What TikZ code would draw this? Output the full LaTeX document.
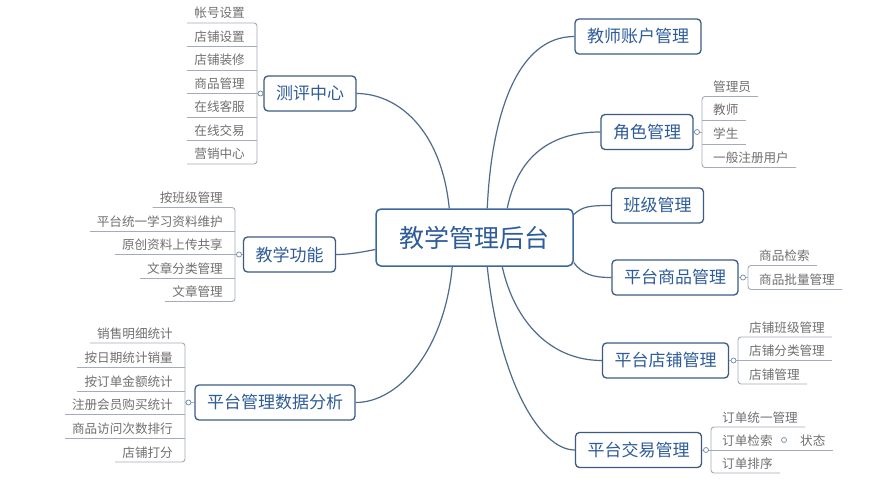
\documentclass[tikz,border=0pt]{standalone}
\usepackage{fontspec}
\setmainfont{Noto Sans CJK SC}
\usetikzlibrary{calc}
\definecolor{boxc}{HTML}{3B5B85}
\definecolor{rootc}{HTML}{3A679E}
\definecolor{txtc}{HTML}{2E5C9A}
\definecolor{conc}{HTML}{4F6B8C}
\definecolor{leaft}{HTML}{707070}
\definecolor{leafl}{HTML}{A3ACB8}
\tikzset{
 root/.style={draw=rootc, line width=1.5pt, rounded corners=5pt, fill=white, text=txtc, font=\fontsize{25}{30}\selectfont, minimum width=197pt, minimum height=57pt, inner sep=0pt},
 topic/.style={draw=boxc, line width=1.3pt, rounded corners=4pt, fill=white, text=txtc, font=\fontsize{17}{20}\selectfont, minimum height=35pt, inner xsep=12pt, inner ysep=0pt},
 leaf/.style={text=leaft, font=\fontsize{12.6}{15}\selectfont, inner xsep=7pt, inner ysep=0pt},
 leafline/.style={draw=leafl, line width=0.9pt},
 conn/.style={draw=conc, line width=1.2pt},
 knob/.style={circle, draw=conc!80, fill=white, line width=0.7pt, minimum size=5pt, inner sep=0pt},
}
\newcommand\lfnL[4]{\node[leaf,anchor=base east] (#1) at ({#2-5},{#3-5}) {#4};}
\newcommand\ulL[3]{\draw[leafline] ($(#1.base west)+(0,5)$) -- (#2,#3);}
\newcommand\brL[5]{\draw[leafline,rounded corners=3pt] ($(#1.base west)+(0,5)$) -- (#3,#4) -- (#3,#5) -- ($(#2.base west)+(0,5)$);}
\newcommand\lfnR[4]{\node[leaf,anchor=base west] (#1) at ({#2+4},{#3-5}) {#4};}
\newcommand\ulR[3]{\draw[leafline] (#2,#3) -- ($(#1.base east)+(0,5)$);}
\newcommand\brR[5]{\draw[leafline,rounded corners=3pt] ($(#1.base east)+(0,5)$) -- (#3,#4) -- (#3,#5) -- ($(#2.base east)+(0,5)$);}
\begin{document}
\begin{tikzpicture}[x=1pt,y=-1pt]
\useasboundingbox[fill=white] (0,0) rectangle (870,484);

% topics
\node[root] (ctr) at (474.5,237.5) {教学管理后台};
\node[topic] (cp) at (310,93.5) {测评中心};
\node[topic] (jx) at (289.5,254.5) {教学功能};
\node[topic] (sj) at (275,402.5) {平台管理数据分析};
\node[topic] (js) at (638,36.5) {教师账户管理};
\node[topic] (jg) at (647,132) {角色管理};
\node[topic] (bj) at (657.5,205.5) {班级管理};
\node[topic] (sp) at (675,277.5) {平台商品管理};
\node[topic] (dp) at (665.5,360.5) {平台店铺管理};
\node[topic] (jy) at (638.5,450) {平台交易管理};

% main connectors
\draw[conn] ($(ctr.north west)+(74,0)$) .. controls +(-8,-80) and +(40,0) .. (cp.east);
\draw[conn] ($(ctr.north west)+(112,0)$) .. controls +(4,-89) and +(-59,0) .. (js.west);
\draw[conn] ($(ctr.north west)+(132,0)$) .. controls +(12,-59) and +(-42,0) .. (jg.west);
\draw[conn] ($(ctr.east)+(0,-23)$) .. controls +(9,-8.5) and +(-20,0) .. (bj.west);
\draw[conn] ($(ctr.east)+(0,25)$) .. controls +(9,12.5) and +(-17,0) .. (sp.west);
\draw[conn] ($(ctr.south west)+(127,0)$) .. controls +(12,54) and +(-52,0) .. (dp.west);
\draw[conn] ($(ctr.south west)+(112,0)$) .. controls +(12,114) and +(-35,0) .. (jy.west);
\draw[conn] ($(ctr.south west)+(77,0)$) .. controls +(-8,84) and +(43,0) .. (sj.east);
\draw[conn] ($(ctr.west)+(0,12)$) .. controls +(-15,3) and +(12,0) .. (jx.east);

% 测评中心 leaves
\lfnL{cp1}{257}{23}{帐号设置}
\lfnL{cp2}{257}{46.5}{店铺设置}
\lfnL{cp3}{257}{70}{店铺装修}
\lfnL{cp4}{257}{93.5}{商品管理}
\lfnL{cp5}{257}{117}{在线客服}
\lfnL{cp6}{257}{140.5}{在线交易}
\lfnL{cp7}{257}{164}{营销中心}
\ulL{cp2}{257}{46.5}\ulL{cp3}{257}{70}\ulL{cp4}{257}{93.5}\ulL{cp5}{257}{117}\ulL{cp6}{257}{140.5}
\brL{cp1}{cp7}{257}{23}{164}
\draw[leafline] (cp.west) -- (257,93.5);
\node[knob] (cpk) at (260.5,93.5) {};

% 教学功能 leaves
\lfnL{jx1}{235}{207.5}{按班级管理}
\lfnL{jx2}{235}{231}{平台统一学习资料维护}
\lfnL{jx3}{235}{254.5}{原创资料上传共享}
\lfnL{jx4}{235}{278}{文章分类管理}
\lfnL{jx5}{235}{301.5}{文章管理}
\ulL{jx2}{235}{231}\ulL{jx3}{235}{254.5}\ulL{jx4}{235}{278}
\brL{jx1}{jx5}{235}{207.5}{301.5}
\draw[leafline] (jx.west) -- (235,254.5);
\node[knob] (jxk) at (239,254.5) {};

% 平台管理数据分析 leaves
\lfnL{sj1}{185}{343}{销售明细统计}
\lfnL{sj2}{185}{367}{按日期统计销量}
\lfnL{sj3}{185}{391}{按订单金额统计}
\lfnL{sj4}{185}{414}{注册会员购买统计}
\lfnL{sj5}{185}{438}{商品访问次数排行}
\lfnL{sj6}{185}{462}{店铺打分}
\ulL{sj2}{185}{367}\ulL{sj3}{185}{391}\ulL{sj4}{185}{414}\ulL{sj5}{185}{438}
\brL{sj1}{sj6}{185}{343}{462}
\draw[leafline] (sj.west) -- (185,402.5);
\node[knob] (sjk) at (188.5,402.5) {};

% 角色管理 leaves
\lfnR{jg1}{702}{96.5}{管理员}
\lfnR{jg2}{702}{120}{教师}
\lfnR{jg3}{702}{144}{学生}
\lfnR{jg4}{702}{167.5}{一般注册用户}
\ulR{jg2}{702}{120}\ulR{jg3}{702}{144}
\brR{jg1}{jg4}{702}{96.5}{167.5}
\draw[leafline] (jg.east) -- (702,132);
\node[knob] (jgk) at (697,132) {};

% 平台商品管理 leaves
\lfnR{sp1}{748}{265.5}{商品检索}
\lfnR{sp2}{748}{289.5}{商品批量管理}
\brR{sp1}{sp2}{748}{265.5}{289.5}
\draw[leafline] (sp.east) -- (748,277.5);
\node[knob] (spk) at (743,277.5) {};

% 平台店铺管理 leaves
\lfnR{dp1}{738}{337}{店铺班级管理}
\lfnR{dp2}{738}{360.5}{店铺分类管理}
\lfnR{dp3}{738}{384}{店铺管理}
\ulR{dp2}{738}{360.5}
\brR{dp1}{dp3}{738}{337}{384}
\draw[leafline] (dp.east) -- (738,360.5);
\node[knob] (dpk) at (733.5,360.5) {};

% 平台交易管理 leaves
\lfnR{jy1}{711}{427}{订单统一管理}
\lfnR{jy2}{711}{450}{订单检索}
\lfnR{jy3}{711}{473}{订单排序}
\node[leaf,anchor=base west] (zt) at (793,445) {状态};
\draw[leafline] (711,450) -- ($(zt.base east)+(0,5)$);
\brR{jy1}{jy3}{711}{427}{473}
\draw[leafline] (jy.east) -- (711,450);
\node[knob] (jyk) at (706,450) {};
\node[knob] (ztk) at (784,440) {};
\end{tikzpicture}
\end{document}
